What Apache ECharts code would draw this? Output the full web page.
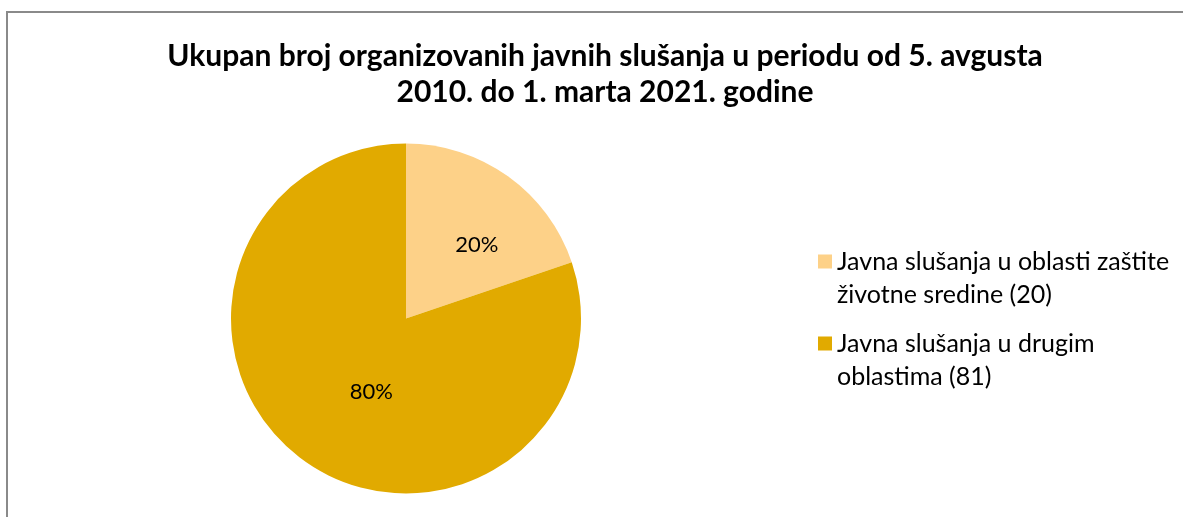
<!DOCTYPE html>
<html>
<head>
<meta charset="utf-8">
<title>Javna slušanja</title>
<script src="https://cdn.jsdelivr.net/npm/echarts@6/dist/echarts.min.js"></script>
<style>
    html, body { margin: 0; padding: 0; background: #fff; }
    #chart { width: 1183px; height: 517px; }
</style>
</head>
<body>
<div id="chart"></div>
<script>
// podaci
const categories = [
    'Javna slušanja u oblasti zaštite životne sredine (20)',
    'Javna slušanja u drugim oblastima (81)',
];
const legendLabels = [
    'Javna slušanja u oblasti zaštite\nživotne sredine (20)',
    'Javna slušanja u drugim\noblastima (81)',
];
const values = [20, 81];
const colors = ['#FDD188', '#E1AA00'];
const titleText = 'Ukupan broj organizovanih javnih slušanja u periodu od 5. avgusta\n2010. do 1. marta 2021. godine';

const chart = echarts.init(document.getElementById('chart'));

const option = {
    animation: false,
    title: {
        text: titleText,
        left: 600,
        top: 33,
        textAlign: 'center',
        textStyle: {
            fontFamily: 'Lato',
            fontWeight: 'bold',
            fontSize: 30,
            lineHeight: 36,
            color: '#000',
        },
    },
    legend: {
        orient: 'vertical',
        left: 818,
        top: 245,
        padding: 0,
        itemGap: 16,
        itemWidth: 14,
        itemHeight: 47,
        // kvadrat na vrhu, ostatak prazan da ikona stoji uz prvi red
        icon: 'path://M0,0L14,0L14,14L0,14Z M0,47L0.01,47',
        itemStyle: { borderWidth: 0 },
        formatter: function (name) {
            return legendLabels[categories.indexOf(name)];
        },
        textStyle: {
            fontFamily: 'Lato',
            fontSize: 25,
            lineHeight: 33,
            color: '#000',
        },
    },
    graphic: [
        {
            type: 'polyline',
            shape: { points: [[7, 530], [7, 12], [1190, 12]] },
            style: { stroke: '#8a8a8a', lineWidth: 2, fill: null },
            silent: true,
        },
    ],
    series: [
        {
            type: 'pie',
            center: [406, 318.5],
            radius: 175,
            startAngle: 90,
            clockwise: true,
            silent: true,
            itemStyle: { borderWidth: 0 },
            label: {
                position: 'inside',
                fontFamily: 'Lato',
                fontSize: 22,
                color: '#000',
                padding: [6, 0, 0, 36],
                formatter: function (p) {
                    return Math.round(p.percent) + '%';
                },
            },
            labelLine: { show: false },
            data: categories.map(function (name, i) {
                return { name: name, value: values[i], itemStyle: { color: colors[i] } };
            }),
        },
    ],
};

chart.setOption(option);
</script>
</body>
</html>
